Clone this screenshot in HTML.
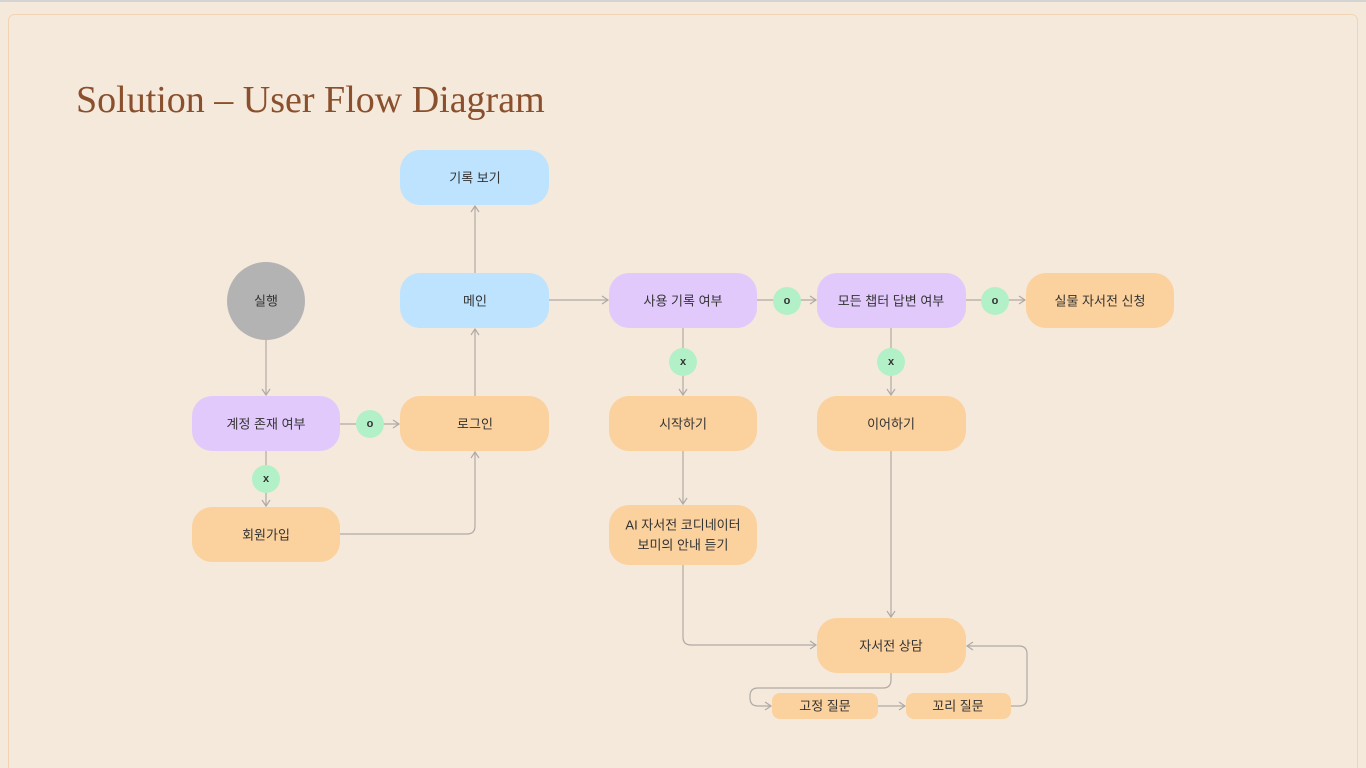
<!DOCTYPE html>
<html><head><meta charset="utf-8"><style>
html,body{margin:0;padding:0;width:1366px;height:768px;overflow:hidden;background:#f5e9dc}
svg{display:block}
.t{font-family:"Liberation Sans","Noto Sans CJK KR",sans-serif;font-size:13px;fill:#333;text-anchor:middle;dominant-baseline:central}
.g{font-family:"Liberation Sans",sans-serif;font-size:11px;fill:#333;text-anchor:middle;dominant-baseline:central;font-weight:bold}
.l{fill:none;stroke:#b0aaa4;stroke-width:1.2}
</style></head><body>
<svg width="1366" height="768" xmlns="http://www.w3.org/2000/svg">
<defs><marker id="a" markerWidth="10" markerHeight="10" refX="8" refY="5" orient="auto" markerUnits="userSpaceOnUse"><path d="M2,1 L8,5 L2,9" fill="none" stroke="#b0aaa4" stroke-width="1.2"/></marker></defs>
<rect x="0" y="0" width="1366" height="2" fill="#d4d4d4"/>
<rect x="8.5" y="14.5" width="1349" height="770" rx="6" fill="#f5e9dc" stroke="#f0d4b4"/>
<text x="76" y="112" font-family="Liberation Serif,serif" font-size="38" fill="#8a4f2c">Solution – User Flow Diagram</text>

<!-- connectors -->
<path class="l" d="M475,273 V206" marker-end="url(#a)"/>
<path class="l" d="M549,300 H608" marker-end="url(#a)"/>
<path class="l" d="M266,340 V395" marker-end="url(#a)"/>
<path class="l" d="M340,424 H399" marker-end="url(#a)"/>
<path class="l" d="M266,451 V506" marker-end="url(#a)"/>
<path class="l" d="M340,534 H467 Q475,534 475,526 V452" marker-end="url(#a)"/>
<path class="l" d="M475,396 V329" marker-end="url(#a)"/>
<path class="l" d="M757,300 H816" marker-end="url(#a)"/>
<path class="l" d="M966,300 H1025" marker-end="url(#a)"/>
<path class="l" d="M683,328 V395" marker-end="url(#a)"/>
<path class="l" d="M891,328 V395" marker-end="url(#a)"/>
<path class="l" d="M683,451 V504" marker-end="url(#a)"/>
<path class="l" d="M891,451 V617" marker-end="url(#a)"/>
<path class="l" d="M683,565 V637 Q683,645 691,645 H816" marker-end="url(#a)"/>
<path class="l" d="M891,673 V680 Q891,688 883,688 H758 Q750,688 750,696 V698 Q750,706 758,706 H771" marker-end="url(#a)"/>
<path class="l" d="M878,706 H905" marker-end="url(#a)"/>
<path class="l" d="M1011,706 H1019 Q1027,706 1027,698 V654 Q1027,646 1019,646 H967" marker-end="url(#a)"/>

<!-- nodes -->
<rect x="400" y="150" width="149" height="55" rx="20" fill="#bde3fe"/><text class="t" x="475" y="178">기록 보기</text>
<circle cx="266" cy="301" r="39" fill="#b3b3b3"/><text class="t" x="266" y="301">실행</text>
<rect x="400" y="273" width="149" height="55" rx="20" fill="#bde3fe"/><text class="t" x="475" y="301">메인</text>
<rect x="609" y="273" width="148" height="55" rx="20" fill="#e2c9fc"/><text class="t" x="683" y="301">사용 기록 여부</text>
<rect x="817" y="273" width="149" height="55" rx="20" fill="#e2c9fc"/><text class="t" x="891" y="301">모든 챕터 답변 여부</text>
<rect x="1026" y="273" width="148" height="55" rx="20" fill="#fbd19e"/><text class="t" x="1100" y="301">실물 자서전 신청</text>
<rect x="192" y="396" width="148" height="55" rx="20" fill="#e2c9fc"/><text class="t" x="266" y="424">계정 존재 여부</text>
<rect x="400" y="396" width="149" height="55" rx="20" fill="#fbd19e"/><text class="t" x="475" y="424">로그인</text>
<rect x="609" y="396" width="148" height="55" rx="20" fill="#fbd19e"/><text class="t" x="683" y="424">시작하기</text>
<rect x="817" y="396" width="149" height="55" rx="20" fill="#fbd19e"/><text class="t" x="891" y="424">이어하기</text>
<rect x="192" y="507" width="148" height="55" rx="20" fill="#fbd19e"/><text class="t" x="266" y="535">회원가입</text>
<rect x="609" y="505" width="148" height="60" rx="20" fill="#fbd19e"/><text class="t" x="683" y="525">AI 자서전 코디네이터</text><text class="t" x="683" y="545">보미의 안내 듣기</text>
<rect x="817" y="618" width="149" height="55" rx="20" fill="#fbd19e"/><text class="t" x="891" y="646">자서전 상담</text>
<rect x="772" y="693" width="106" height="26" rx="8" fill="#fbd19e"/><text class="t" x="825" y="706">고정 질문</text>
<rect x="906" y="693" width="105" height="26" rx="8" fill="#fbd19e"/><text class="t" x="958" y="706">꼬리 질문</text>

<!-- decision badges -->
<circle cx="370" cy="424" r="14" fill="#b2f0c8"/><text class="g" x="370" y="424">o</text>
<circle cx="266" cy="479" r="14" fill="#b2f0c8"/><text class="g" x="266" y="479">x</text>
<circle cx="787" cy="301" r="14" fill="#b2f0c8"/><text class="g" x="787" y="301">o</text>
<circle cx="995" cy="301" r="14" fill="#b2f0c8"/><text class="g" x="995" y="301">o</text>
<circle cx="683" cy="362" r="14" fill="#b2f0c8"/><text class="g" x="683" y="362">x</text>
<circle cx="891" cy="362" r="14" fill="#b2f0c8"/><text class="g" x="891" y="362">x</text>
</svg>
</body></html>
